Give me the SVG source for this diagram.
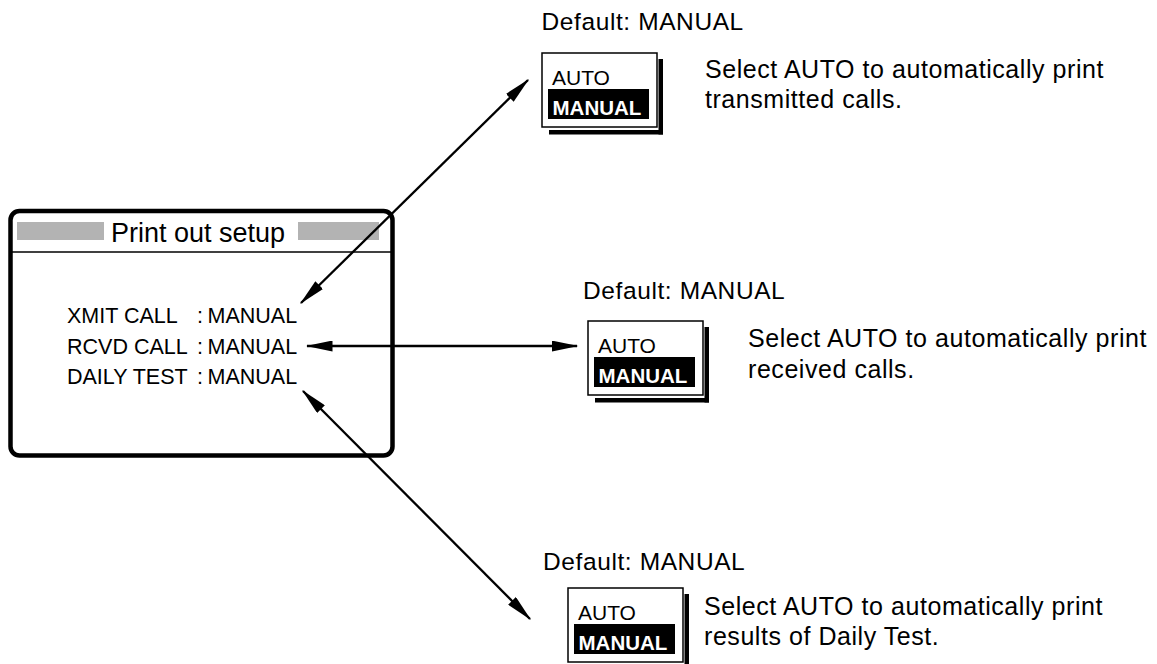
<svg xmlns="http://www.w3.org/2000/svg" width="1157" height="664" viewBox="0 0 1157 664">
<style>
text{font-family:"Liberation Sans",Arial,Helvetica,sans-serif;fill:#000}
.menu{font-size:21.5px}
.title{font-size:27px}
.desc{font-size:25px;letter-spacing:0.55px}
.def{font-size:24.5px;letter-spacing:0.6px}
.auto{font-size:21px}
.man{font-size:20.5px;font-weight:bold;fill:#fff}
.frame{fill:#fff;stroke:#000;stroke-width:1.5}
.conn{stroke:#000;stroke-width:2.3;fill:none;marker-start:url(#ah);marker-end:url(#ah)}
</style>
<defs>
<marker id="ah" viewBox="0 0 27 11" markerWidth="27" markerHeight="11" refX="25.5" refY="5.5" orient="auto-start-reverse" markerUnits="userSpaceOnUse">
<path d="M0,0 L27,5.5 L0,11 z" fill="#000"/>
</marker>
<g id="popup">
<rect x="116.5" y="6" width="4.5" height="75.5" fill="#000"/>
<rect x="7" y="77" width="114" height="4.5" fill="#000"/>
<rect class="frame" x="0" y="0" width="115" height="74"/>
<text class="auto" x="10" y="32">AUTO</text>
<rect x="6" y="36" width="101" height="30" fill="#000"/>
<text class="man" x="10.5" y="62">MANUAL</text>
</g>
</defs>
<rect width="1157" height="664" fill="#fff"/>

<g id="main">
<rect x="10.5" y="211" width="382" height="244.5" rx="9" fill="#fff" stroke="#000" stroke-width="4.5"/>
<line x1="10.5" y1="252" x2="392.5" y2="252" stroke="#000" stroke-width="1.5"/>
<rect x="17" y="222" width="87" height="18" fill="#b3b3b3"/>
<rect x="298" y="222" width="81" height="18" fill="#b3b3b3"/>
<text class="title" x="111" y="242">Print out setup</text>
<text class="menu" x="67" y="323">XMIT CALL</text>
<text class="menu" x="197" y="323">:</text>
<text class="menu" x="207.5" y="323">MANUAL</text>
<text class="menu" x="67" y="354">RCVD CALL</text>
<text class="menu" x="197" y="354">:</text>
<text class="menu" x="207.5" y="354">MANUAL</text>
<text class="menu" x="67" y="384">DAILY TEST</text>
<text class="menu" x="197" y="384">:</text>
<text class="menu" x="207.5" y="384">MANUAL</text>
</g>

<g id="xmit-option">
<text class="def" x="541.5" y="30">Default: MANUAL</text>
<use href="#popup" x="542" y="53"/>
<text class="desc" x="705" y="78">Select AUTO to automatically print</text>
<text class="desc" x="705" y="108">transmitted calls.</text>
</g>

<g id="rcvd-option">
<text class="def" x="583" y="299">Default: MANUAL</text>
<use href="#popup" x="588" y="321"/>
<text class="desc" x="748" y="347">Select AUTO to automatically print</text>
<text class="desc" x="748" y="378">received calls.</text>
</g>

<g id="daily-option">
<text class="def" x="543" y="570">Default: MANUAL</text>
<use href="#popup" x="568" y="588"/>
<text class="desc" x="704" y="615">Select AUTO to automatically print</text>
<text class="desc" x="704" y="645">results of Daily Test.</text>
</g>

<g id="connectors">
<line class="conn" x1="301" y1="303" x2="528" y2="80"/>
<line class="conn" x1="307" y1="346" x2="577" y2="346"/>
<line class="conn" x1="303" y1="391" x2="530" y2="619"/>
</g>
</svg>
